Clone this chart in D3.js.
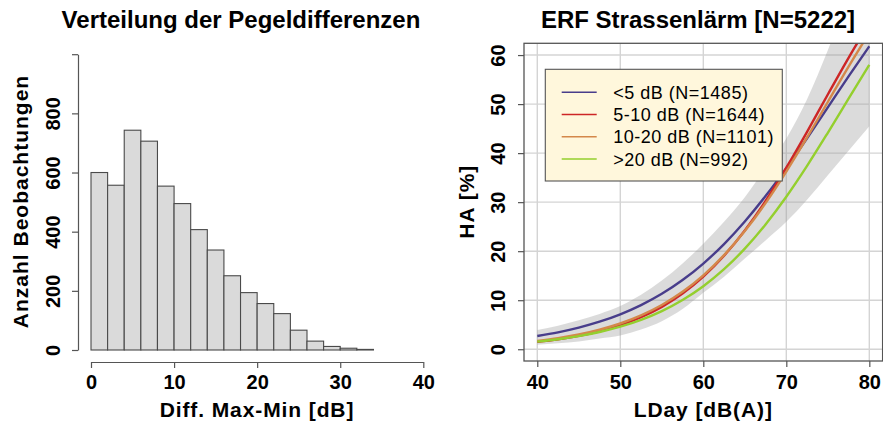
<!DOCTYPE html>
<html><head><meta charset="utf-8">
<script src="https://cdn.jsdelivr.net/npm/d3@7"></script>
<style>
body{margin:0;background:#fff}
svg{display:block}
text{font-family:"Liberation Sans",Arial,Helvetica,sans-serif}
</style>
</head><body>
<svg id="c" width="883" height="425"></svg>
<script>
// ---------- Histogram data ----------
const binStarts = [0,2,4,6,8,10,12,14,16,18,20,22,24,26,28,30,32];
const binWidth = 2;
const binCounts = [600,557,743,706,554,495,407,338,251,194,157,123,67,30,12,6,2];
const histXTicks = [0,10,20,30,40];
const histYTicks = [0,200,400,600,800,1000];
const histYLabels = ["0","200","400","600","800",""];

// ---------- ERF data ----------
const lday = [40,42.5,45,47.5,50,52.5,55,57.5,60,62.5,65,67.5,70,72.5,75,77.5,80];
const haLt5   = [2.70,3.45,4.41,5.61,7.12,9.00,11.30,14.11,17.48,21.45,26.06,31.24,36.94,43.03,49.33,55.65,61.80];
const ha5to10 = [1.50,2.02,2.72,3.65,4.89,6.52,8.64,11.36,14.81,19.08,24.23,30.24,37.03,44.35,51.95,59.43,66.53];
const ha10to20= [1.70,2.26,3.00,3.98,5.25,6.90,9.02,11.71,15.07,19.19,24.10,29.81,36.24,43.19,50.43,57.64,64.55];
const haGt20  = [1.55,2.04,2.68,3.52,4.60,5.99,7.78,10.04,12.86,16.33,20.52,25.46,31.11,37.40,44.15,51.10,58.00];
const ciLower = [0.9,1.2,1.6,2.2,2.8,4.0,5.7,8.2,11.5,14.8,18.5,22.2,26.0,30.5,35.5,40.5,45.5];
const ciUpper = [3.9,4.8,5.9,7.2,8.8,11.1,14.0,17.5,21.5,26.0,31.0,37.0,43.0,51.0,61.0,72.0,83.0];
const seriesNames = ["<5 dB (N=1485)","5-10 dB (N=1644)","10-20 dB (N=1101)",">20 dB (N=992)"];
const seriesColors = ["#483D8B","#CD2626","#D4884A","#94CF2E"];
const erfXTicks = [40,50,60,70,80];
const erfYTicks = [0,10,20,30,40,50,60];

const titleLeft = "Verteilung der Pegeldifferenzen";
const titleRight = "ERF Strassenlärm [N=5222]";

const svg = d3.select("#c");
const axisCol = "#555";

function styleAxis(g){
  g.select(".domain").attr("stroke",axisCol).attr("stroke-width",1.2);
  g.selectAll(".tick line").attr("stroke",axisCol).attr("stroke-width",1.2);
  g.selectAll("text").attr("font-size",20).attr("font-weight","bold").attr("fill","#000")
   .attr("font-family","'Liberation Sans',Arial,sans-serif");
}

// ================= LEFT: histogram =================
const hx = d3.scaleLinear().domain([0,40]).range([91,423.3]);
const hy = d3.scaleLinear().domain([0,1000]).range([350,54.2]);

svg.append("g").selectAll("rect").data(binStarts).join("rect")
  .attr("x",(d)=>hx(d)).attr("width",(d)=>hx(d+binWidth)-hx(d))
  .attr("y",(d,i)=>hy(binCounts[i])).attr("height",(d,i)=>hy(0)-hy(binCounts[i]))
  .attr("fill","#dadada").attr("stroke","#4a4a4a").attr("stroke-width",1.1);

const hxAxis = svg.append("g").attr("transform","translate(0,362)")
  .call(d3.axisBottom(hx).tickValues(histXTicks).tickSize(6).tickSizeOuter(0).tickFormat(d3.format("d")));
styleAxis(hxAxis);
hxAxis.selectAll("text").attr("y",27).attr("dy",0);

const hyAxis = svg.append("g").attr("transform","translate(78,0)")
  .call(d3.axisLeft(hy).tickValues(histYTicks).tickSize(6).tickSizeOuter(0).tickFormat((d,i)=>histYLabels[i]));
styleAxis(hyAxis);
hyAxis.selectAll("text").attr("x",0).attr("dy",0).attr("text-anchor","middle")
  .attr("transform","translate(-18,0) rotate(-90)");

svg.append("text").attr("x",257).attr("y",416.5).attr("text-anchor","middle")
  .attr("font-size",21).attr("font-weight","bold").attr("letter-spacing",0.9).text("Diff. Max-Min [dB]");
svg.append("text").attr("transform","translate(27.5,201.5) rotate(-90)").attr("text-anchor","middle")
  .attr("font-size",21).attr("font-weight","bold").attr("letter-spacing",1).text("Anzahl Beobachtungen");
svg.append("text").attr("x",241).attr("y",28).attr("text-anchor","middle")
  .attr("font-size",24).attr("font-weight","bold").text(titleLeft);

// ================= RIGHT: ERF =================
const ex = d3.scaleLinear().domain([38.4,81.6]).range([524,882.6]);
const ey = d3.scaleLinear().domain([-2.4,62.4]).range([361,43.3]);

svg.append("defs").append("clipPath").attr("id","box")
  .append("rect").attr("x",ex(38.4)).attr("y",ey(62.4))
  .attr("width",ex(81.6)-ex(38.4)).attr("height",ey(-2.4)-ey(62.4));

const grid = svg.append("g").attr("clip-path","url(#box)");
grid.selectAll("line.v").data(erfXTicks).join("line").attr("class","v")
  .attr("x1",(d)=>ex(d)).attr("x2",(d)=>ex(d)).attr("y1",ey(-2.4)).attr("y2",ey(62.4))
  .attr("stroke","#d4d4d4").attr("stroke-width",1.4);
grid.selectAll("line.h").data(erfYTicks).join("line").attr("class","h")
  .attr("y1",(d)=>ey(d)).attr("y2",(d)=>ey(d)).attr("x1",ex(38.4)).attr("x2",ex(81.6))
  .attr("stroke","#d4d4d4").attr("stroke-width",1.4);

const plotG = svg.append("g").attr("clip-path","url(#box)");
const area = d3.area().curve(d3.curveMonotoneX)
  .x((d,i)=>ex(lday[i])).y0((d,i)=>ey(ciLower[i])).y1((d,i)=>ey(ciUpper[i]));
plotG.append("path").datum(lday).attr("d",area).attr("fill","#9a9a9a").attr("fill-opacity",0.36);

const seriesData = [haLt5, ha5to10, ha10to20, haGt20];
const line = d3.line().curve(d3.curveMonotoneX).x((d,i)=>ex(lday[i])).y((d)=>ey(d));
plotG.selectAll("path.s").data(seriesData).join("path").attr("class","s")
  .attr("d",line).attr("fill","none").attr("stroke",(d,i)=>seriesColors[i]).attr("stroke-width",2.4);

svg.append("rect").attr("x",ex(38.4)).attr("y",ey(62.4))
  .attr("width",ex(81.6)-ex(38.4)).attr("height",ey(-2.4)-ey(62.4))
  .attr("fill","none").attr("stroke",axisCol).attr("stroke-width",1.3);

const exAxis = svg.append("g").attr("transform","translate(0,361)")
  .call(d3.axisBottom(ex).tickValues(erfXTicks).tickSize(6).tickSizeOuter(0));
styleAxis(exAxis);
exAxis.select(".domain").remove();
exAxis.selectAll("text").attr("y",28).attr("dy",0);

const eyAxis = svg.append("g").attr("transform","translate(524,0)")
  .call(d3.axisLeft(ey).tickValues(erfYTicks).tickSize(6).tickSizeOuter(0));
styleAxis(eyAxis);
eyAxis.select(".domain").remove();
eyAxis.selectAll("text").attr("x",0).attr("dy",0).attr("text-anchor","middle")
  .attr("transform","translate(-19,0) rotate(-90)");

svg.append("text").attr("x",703.3).attr("y",416.5).attr("text-anchor","middle")
  .attr("font-size",21).attr("font-weight","bold").attr("letter-spacing",0.9).text("LDay [dB(A)]");
svg.append("text").attr("transform","translate(474,201.7) rotate(-90)").attr("text-anchor","middle")
  .attr("font-size",21).attr("font-weight","bold").attr("letter-spacing",1).text("HA [%]");
svg.append("text").attr("x",698).attr("y",28).attr("text-anchor","middle")
  .attr("font-size",24).attr("font-weight","bold").text(titleRight);

// legend
const lg = svg.append("g");
lg.append("rect").attr("x",545.3).attr("y",69.3).attr("width",237).attr("height",111.7)
  .attr("fill","#FFF7DC").attr("stroke",axisCol).attr("stroke-width",1.1);
const items = lg.selectAll("g.it").data(seriesNames).join("g").attr("class","it")
  .attr("transform",(d,i)=>`translate(0,${92.3+i*22.25})`);
items.append("line").attr("x1",561.7).attr("x2",596.7).attr("y1",0).attr("y2",0)
  .attr("stroke",(d,i)=>seriesColors[i]).attr("stroke-width",1.6);
items.append("text").attr("x",613.3).attr("y",6.5).attr("font-size",18).attr("letter-spacing",0.5)
  .attr("fill","#000").text((d)=>d);
</script>
</body></html>
